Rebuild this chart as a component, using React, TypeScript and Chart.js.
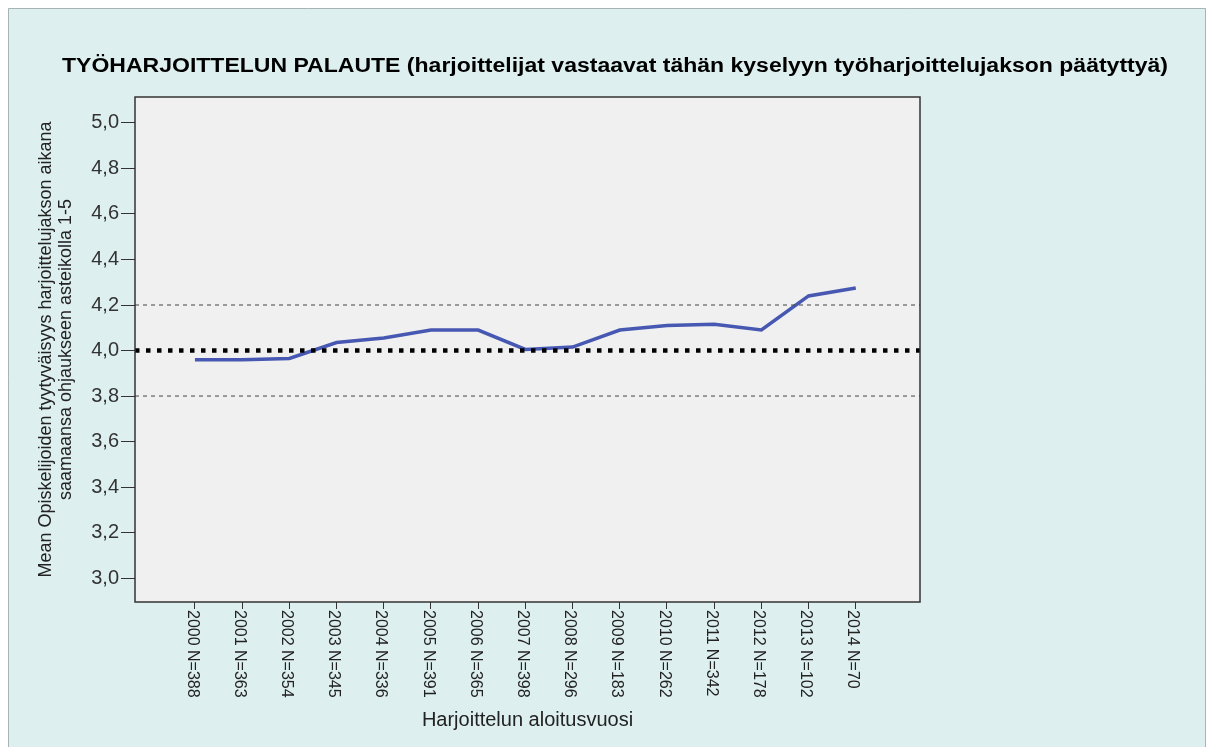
import React, { useEffect, useRef } from "react";
import { Chart, registerables } from "chart.js";

Chart.register(...registerables);

const years = ["2000", "2001", "2002", "2003", "2004", "2005", "2006", "2007", "2008", "2009", "2010", "2011", "2012", "2013", "2014"];
const counts = [388, 363, 354, 345, 336, 391, 365, 398, 296, 183, 262, 342, 178, 102, 70];
const means = [3.96, 3.96, 3.965, 4.035, 4.055, 4.09, 4.09, 4.005, 4.015, 4.09, 4.11, 4.115, 4.09, 4.24, 4.275];
const yTicks = [3.0, 3.2, 3.4, 3.6, 3.8, 4.0, 4.2, 4.4, 4.6, 4.8, 5.0];
const dashedRefs = [3.8, 4.2];
const dottedRef = 4.0;

const title = "TYÖHARJOITTELUN PALAUTE (harjoittelijat vastaavat tähän kyselyyn työharjoittelujakson päätyttyä)";
const yTitle = ["Mean Opiskelijoiden tyytyväisyys harjoittelujakson aikana", "saamaansa ohjaukseen asteikolla 1-5"];
const xTitle = "Harjoittelun aloitusvuosi";

const X_MIN = -1.27;
const X_MAX = 15.36;
const FONT = "'Liberation Sans', Arial, sans-serif";

export default function App() {
  const ref = useRef<HTMLCanvasElement | null>(null);

  useEffect(() => {
    const canvas = ref.current;
    if (!canvas) return;

    const framePlugin = {
      id: "frame",
      beforeDraw(chart: any) {
        const { ctx, width, height, chartArea } = chart;
        ctx.save();
        ctx.fillStyle = "#ffffff";
        ctx.fillRect(0, 0, width, height);
        ctx.fillStyle = "#deefef";
        ctx.fillRect(8, 8, 1198, height - 8);
        ctx.strokeStyle = "#a8b4b4";
        ctx.lineWidth = 1;
        ctx.beginPath();
        ctx.moveTo(8.5, height);
        ctx.lineTo(8.5, 8.5);
        ctx.lineTo(1205.5, 8.5);
        ctx.lineTo(1205.5, height);
        ctx.stroke();
        ctx.fillStyle = "#f0f0f0";
        ctx.fillRect(chartArea.left, chartArea.top, chartArea.right - chartArea.left, chartArea.bottom - chartArea.top);
        // title, stretched horizontally to match the reference's wide rendering
        ctx.fillStyle = "#000000";
        ctx.font = `bold 20px ${FONT}`;
        ctx.textAlign = "center";
        ctx.textBaseline = "middle";
        const w = ctx.measureText(title).width;
        const sx = 1106 / w;
        ctx.translate(615, 66);
        ctx.scale(sx, 1);
        ctx.fillText(title, 0, 0);
        ctx.restore();
      },
      afterDraw(chart: any) {
        const { ctx, chartArea } = chart;
        const xs = chart.scales.x;
        ctx.save();
        ctx.strokeStyle = "#333333";
        ctx.lineWidth = 1.5;
        ctx.strokeRect(chartArea.left, chartArea.top, chartArea.right - chartArea.left, chartArea.bottom - chartArea.top);
        ctx.fillStyle = "#222222";
        ctx.font = `16px ${FONT}`;
        ctx.textAlign = "left";
        ctx.textBaseline = "middle";
        years.forEach((yr, i) => {
          const px = xs.getPixelForValue(i);
          ctx.save();
          ctx.translate(px - 3, chartArea.bottom + 8);
          ctx.rotate(Math.PI / 2);
          ctx.fillText(`${yr} N=${counts[i]}`, 0, 0);
          ctx.restore();
        });
        ctx.restore();
      },
    };

    const chart = new Chart(canvas, {
      type: "line",
      data: {
        datasets: [
          {
            label: "dashed-low",
            data: [{ x: X_MIN, y: dashedRefs[0] }, { x: X_MAX, y: dashedRefs[0] }],
            borderColor: "#444444",
            borderWidth: 1,
            borderDash: [4, 4],
            pointRadius: 0,
          },
          {
            label: "dashed-high",
            data: [{ x: X_MIN, y: dashedRefs[1] }, { x: X_MAX, y: dashedRefs[1] }],
            borderColor: "#444444",
            borderWidth: 1,
            borderDash: [4, 4],
            pointRadius: 0,
          },
          {
            label: "dotted",
            data: [{ x: X_MIN, y: dottedRef }, { x: X_MAX, y: dottedRef }],
            borderColor: "#000000",
            borderWidth: 4.5,
            borderDash: [4.5, 6.5],
            borderCapStyle: "butt",
            pointRadius: 0,
          },
          {
            label: "mean",
            data: means.map((v, i) => ({ x: i, y: v })),
            borderColor: "#4758b2",
            borderWidth: 3.5,
            pointRadius: 0,
            tension: 0,
          },
        ],
      },
      options: {
        animation: false,
        responsive: false,
        maintainAspectRatio: false,
        layout: { padding: { left: 0, top: 97, right: 293, bottom: 0 } },
        plugins: {
          legend: { display: false },
          tooltip: { enabled: false },
          title: { display: false },
        },
        scales: {
          x: {
            type: "linear",
            min: X_MIN,
            max: X_MAX,
            afterBuildTicks: (scale: any) => {
              scale.ticks = years.map((_, i) => ({ value: i }));
            },
            afterFit: (scale: any) => {
              scale.height = 145;
            },
            ticks: { display: false },
            grid: { drawOnChartArea: false, drawTicks: true, tickLength: 7, color: "#333333", lineWidth: 1 },
            border: { display: false },
            title: {
              display: true,
              text: xTitle,
              color: "#222222",
              font: { family: FONT, size: 20, lineHeight: 1.2 },
              padding: { top: 0, bottom: 15 },
            },
          },
          y: {
            type: "linear",
            min: 2.895,
            max: 5.114,
            afterBuildTicks: (scale: any) => {
              scale.ticks = yTicks.map((v) => ({ value: v }));
            },
            afterFit: (scale: any) => {
              scale.width = 135;
            },
            ticks: {
              color: "#333333",
              padding: 2,
              font: { family: FONT, size: 20 },
              callback: (v: any) => Number(v).toFixed(1).replace(".", ","),
            },
            grid: { drawOnChartArea: false, drawTicks: true, tickLength: 14, color: "#333333", lineWidth: 1 },
            border: { display: false },
            title: {
              display: true,
              text: yTitle,
              color: "#222222",
              font: { family: FONT, size: 18, lineHeight: 1.1 },
              padding: { top: 36, bottom: 0 },
            },
          },
        },
      },
      plugins: [framePlugin],
    } as any);

    return () => chart.destroy();
  }, []);

  return (
    <div style={{ position: "fixed", left: 0, top: 0, width: 1213, height: 747 }}>
      <canvas ref={ref} width={1213} height={747} style={{ display: "block", width: 1213, height: 747 }} />
    </div>
  );
}
